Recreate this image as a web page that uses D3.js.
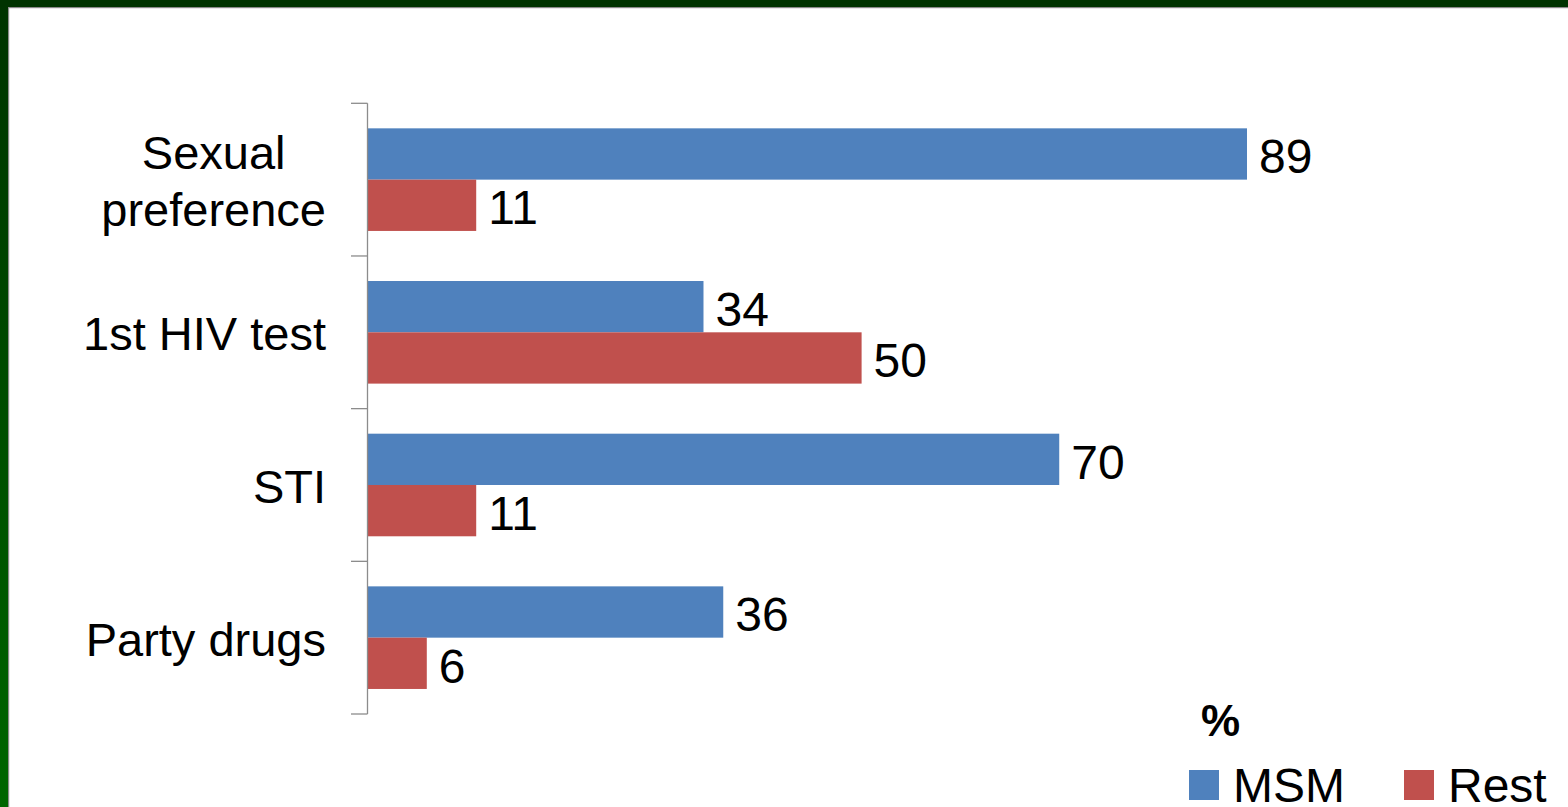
<!DOCTYPE html>
<html>
<head>
<meta charset="utf-8">
<script src="https://cdn.jsdelivr.net/npm/d3@7"></script>
<style>
  html, body { margin: 0; padding: 0; background: #fff; overflow: hidden; }
  svg { display: block; font-family: "Liberation Sans", Arial, Helvetica, sans-serif; }
</style>
</head>
<body>
<svg id="chart" width="1568" height="807"></svg>
<script>
// Categories, top to bottom
const categories = ["Sexual preference", "1st HIV test", "STI", "Party drugs"];
// Label lines for each category
const categoryLines = [["Sexual", "preference"], ["1st HIV test"], ["STI"], ["Party drugs"]];
// Series
const seriesNames = ["MSM", "Rest"];
const msmValues = [89, 34, 70, 36];
const restValues = [11, 50, 11, 6];
const seriesColors = ["#4F81BD", "#C0504D"];
const unitLabel = "%";

const svg = d3.select("#chart");
const W = 1568, H = 807;

// Slide frame: dark green top band and a green left band with a grey rule inside
const defs = svg.append("defs");
const grad = defs.append("linearGradient")
  .attr("id", "leftBand").attr("x1", 0).attr("y1", 0).attr("x2", 0).attr("y2", 1);
grad.append("stop").attr("offset", "0%").attr("stop-color", "#003300");
grad.append("stop").attr("offset", "100%").attr("stop-color", "#006600");

svg.append("rect").attr("x", 0).attr("y", 0).attr("width", 8).attr("height", H).attr("fill", "url(#leftBand)");
svg.append("rect").attr("x", 0).attr("y", 0).attr("width", W).attr("height", 7).attr("fill", "#003300");
svg.append("rect").attr("x", 8).attr("y", 7).attr("width", W - 8).attr("height", 1.2).attr("fill", "#8a8a8a");
svg.append("rect").attr("x", 8).attr("y", 7).attr("width", 1.2).attr("height", H - 7).attr("fill", "#8a8a8a");

// Scales
const x0 = 367.5;
const x = d3.scaleLinear().domain([0, 100]).range([x0, x0 + 988.2]);
const y = d3.scaleBand().domain(categories).range([103.3, 714]).paddingInner(0).paddingOuter(0);
const ySub = d3.scaleBand().domain(seriesNames).range([0, y.bandwidth()]).paddingInner(0).paddingOuter(0.488);

const rows = categories.map((c, i) => ({
  category: c,
  lines: categoryLines[i],
  values: [msmValues[i], restValues[i]]
}));

// Bars
const groups = svg.append("g").selectAll("g").data(rows).join("g")
  .attr("transform", d => `translate(0,${y(d.category)})`);

groups.selectAll("rect")
  .data(d => d.values.map((v, j) => ({ name: seriesNames[j], value: v, color: seriesColors[j] })))
  .join("rect")
  .attr("x", x(0))
  .attr("y", d => ySub(d.name))
  .attr("width", d => x(d.value) - x(0))
  .attr("height", ySub.bandwidth())
  .attr("fill", d => d.color);

// Value labels
groups.selectAll("text.val")
  .data(d => d.values.map((v, j) => ({ name: seriesNames[j], value: v })))
  .join("text")
  .attr("class", "val")
  .attr("x", d => x(d.value) + 12)
  .attr("y", d => ySub(d.name) + ySub.bandwidth() / 2)
  .attr("dy", "0.4em")
  .attr("font-size", 48)
  .attr("fill", "#000")
  .text(d => d.value);

// Category axis
const axisG = svg.append("g");
axisG.append("line")
  .attr("x1", x0).attr("x2", x0)
  .attr("y1", y.range()[0]).attr("y2", y.range()[1])
  .attr("stroke", "#8c8c8c").attr("stroke-width", 1.3);
const boundaries = categories.map(c => y(c)).concat([y.range()[1]]);
axisG.selectAll("line.tick").data(boundaries).join("line")
  .attr("class", "tick")
  .attr("x1", 351).attr("x2", x0)
  .attr("y1", d => d).attr("y2", d => d)
  .attr("stroke", "#8c8c8c").attr("stroke-width", 1.3);

// Category labels: block right-aligned to the axis, lines centred within the block
const labelRight = 326;
const lineHeight = 57;
rows.forEach(r => {
  const g = svg.append("g");
  const texts = g.selectAll("text").data(r.lines).join("text")
    .attr("font-size", 47)
    .attr("fill", "#000")
    .attr("text-anchor", "middle")
    .text(d => d);
  let maxW = 0;
  texts.each(function () { maxW = Math.max(maxW, this.getComputedTextLength()); });
  const cy = y(r.category) + y.bandwidth() / 2;
  const n = r.lines.length;
  texts
    .attr("x", labelRight - maxW / 2)
    .attr("y", (d, i) => cy + (i - (n - 1) / 2) * lineHeight)
    .attr("dy", "0.38em");
});

// Unit label
svg.append("text")
  .attr("x", 1201).attr("y", 736)
  .attr("font-size", 44).attr("font-weight", "bold")
  .attr("fill", "#000")
  .text(unitLabel);

// Legend
const legendX = [1189, 1404];
const legend = svg.append("g").selectAll("g").data(seriesNames).join("g")
  .attr("transform", (d, i) => `translate(${legendX[i]},770)`);
legend.append("rect")
  .attr("width", 30).attr("height", 30)
  .attr("fill", (d, i) => seriesColors[i]);
legend.append("text")
  .attr("x", 44).attr("y", 15).attr("dy", "0.36em")
  .attr("font-size", 48).attr("fill", "#000")
  .text(d => d);
</script>
</body>
</html>
